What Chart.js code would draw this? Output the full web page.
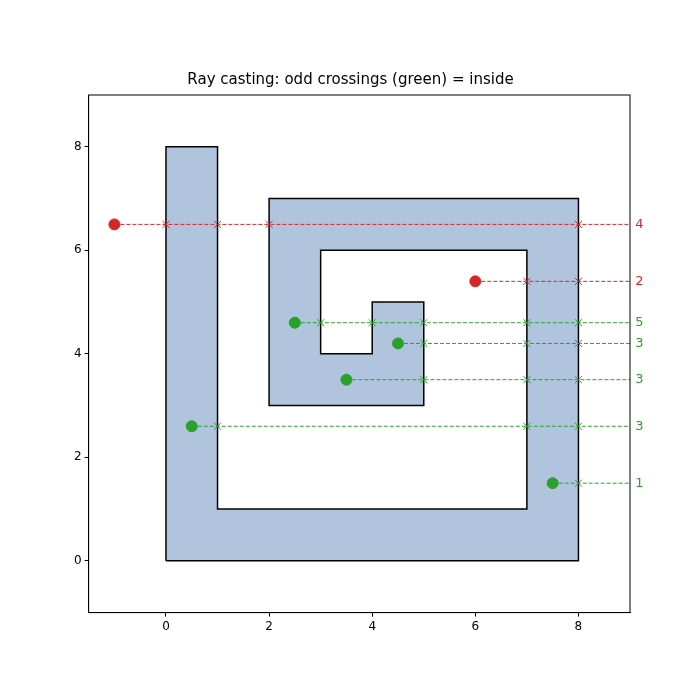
<!DOCTYPE html>
<html>
<head>
<meta charset="utf-8">
<script src="https://cdn.jsdelivr.net/npm/chart.js@4"></script>
<style>body{margin:0;background:#fff}</style>
</head>
<body>
<canvas id="c" width="700" height="700"></canvas>
<script>
// Spiral polygon outline
const polyX = [0, 8, 8, 2, 2, 5, 5, 4, 4, 3, 3, 7, 7, 1, 1, 0, 0];
const polyY = [0, 0, 7, 7, 3, 3, 5, 5, 4, 4, 6, 6, 1, 1, 8, 8, 0];

// Test points and where their rightward rays cross edges
const pointX = [-1, 6, 2.5, 4.5, 3.5, 0.5, 7.5];
const pointY = [6.5, 5.4, 4.6, 4.2, 3.5, 2.6, 1.5];
const crossings = [[0, 1, 2, 8], [7, 8], [3, 4, 5, 7, 8], [5, 7, 8], [5, 7, 8], [1, 7, 8], [8]];
const counts = [4, 2, 5, 3, 3, 3, 1];
const rayEnd = 9;

const RED = '#d62728', GREEN = '#2ca02c';
const colorOf = i => counts[i] % 2 ? GREEN : RED;

// lower order = drawn on top
const datasets = [{
    data: polyX.map((x, i) => ({x: x, y: polyY[i]})),
    showLine: true, fill: 'shape', order: 10,
    backgroundColor: '#b0c4de', borderColor: '#000', borderWidth: 1.5,
    pointRadius: 0, tension: 0
}];
pointX.forEach((px, i) => {
    datasets.push({
        data: [{x: px, y: pointY[i]}, {x: rayEnd, y: pointY[i]}],
        showLine: true, borderColor: colorOf(i), borderWidth: 1, borderDash: [4, 2],
        pointRadius: 0, order: 3
    });
    datasets.push({
        data: crossings[i].map(cx => ({x: cx, y: pointY[i]})),
        pointStyle: 'crossRot', pointRadius: 5, borderColor: colorOf(i), borderWidth: 1, order: 2
    });
    datasets.push({
        data: [{x: px, y: pointY[i]}],
        pointRadius: 5.5, backgroundColor: colorOf(i), borderColor: colorOf(i), order: 1
    });
});

const frameAndLabels = {
    id: 'frameAndLabels',
    afterDraw(chart) {
        const {ctx, chartArea: a, scales} = chart;
        ctx.save();
        ctx.strokeStyle = '#000'; ctx.lineWidth = 1;
        ctx.strokeRect(a.left, a.top, a.right - a.left, a.bottom - a.top);
        ctx.font = '13px "DejaVu Sans"';
        ctx.textBaseline = 'middle';
        counts.forEach((n, i) => {
            ctx.fillStyle = colorOf(i);
            ctx.fillText(String(n), scales.x.getPixelForValue(rayEnd + 0.1), scales.y.getPixelForValue(pointY[i]));
        });
        ctx.restore();
    }
};

const tickFont = {family: 'DejaVu Sans', size: 12};
const tickVals = [0, 2, 4, 6, 8];
new Chart(document.getElementById('c'), {
    type: 'scatter',
    data: {datasets: datasets},
    options: {
        responsive: false, animation: false,
        layout: {padding: {left: 71, right: 70, top: 11, bottom: 63}},
        plugins: {
            legend: {display: false}, tooltip: {enabled: false},
            title: {display: true, text: 'Ray casting: odd crossings (green) = inside',
                color: '#000', font: {family: 'DejaVu Sans', size: 15, weight: 'normal'},
                padding: {top: 60, bottom: 6}}
        },
        scales: {
            x: {min: -1.5, max: 9,
                afterBuildTicks: s => { s.ticks = tickVals.map(v => ({value: v})); },
                ticks: {color: '#000', font: tickFont},
                grid: {drawOnChartArea: false, tickLength: 4, color: '#000'},
                border: {color: '#000'}},
            y: {min: -1, max: 9,
                afterBuildTicks: s => { s.ticks = tickVals.map(v => ({value: v})); },
                ticks: {color: '#000', font: tickFont},
                grid: {drawOnChartArea: false, tickLength: 4, color: '#000'},
                border: {color: '#000'}}
        }
    },
    plugins: [frameAndLabels]
});
</script>
</body>
</html>
